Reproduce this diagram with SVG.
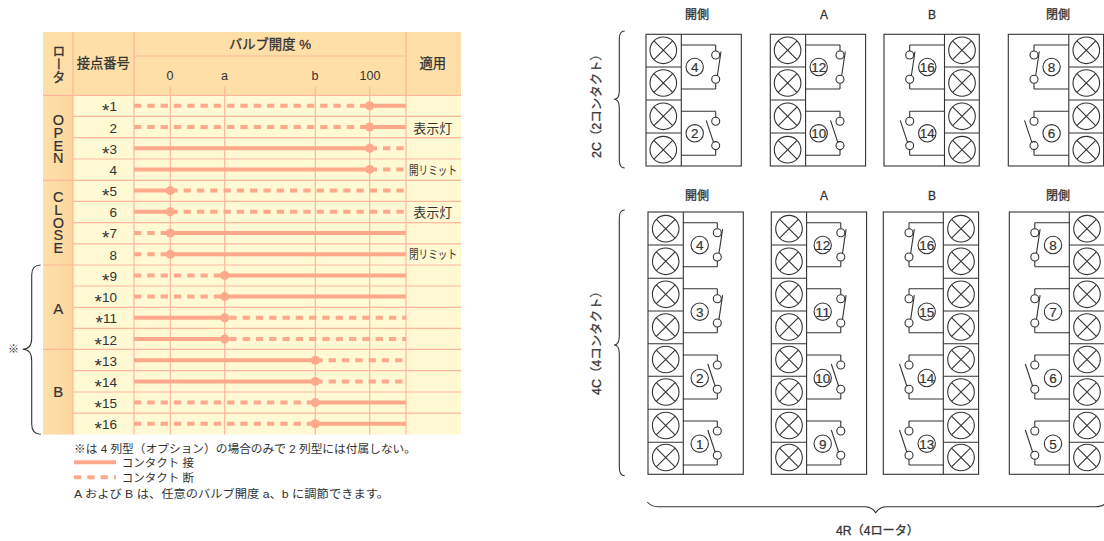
<svg xmlns="http://www.w3.org/2000/svg" width="1104" height="541" viewBox="0 0 1104 541">
<style>
text{font-family:"Liberation Sans","Noto Sans CJK JP",sans-serif;fill:#333;font-size:12px}
.m{text-anchor:middle}
.h{font-size:13.3px;stroke:#333;stroke-width:.3}
.tick{font-size:12.5px;text-anchor:middle}
.r{text-anchor:end;font-size:13.5px}
.st{font-size:19px;baseline-shift:-6px}
.rot{font-size:14.5px;writing-mode:vertical-rl;text-orientation:upright;letter-spacing:-3.2px;stroke:#333;stroke-width:.2}
.big{font-size:15px;text-anchor:middle;stroke:#333;stroke-width:.2}
.num{font-size:13.5px;text-anchor:middle;stroke:#333;stroke-width:.2}
.t{font-size:12px;text-anchor:middle;stroke:#333;stroke-width:.3}
.v{font-size:12px;stroke:#333;stroke-width:.3}
.leg{font-size:11.5px}
.g{stroke:#fdb79b;stroke-width:1.2;fill:none}
.s{stroke:#ffa98c;stroke-width:4;fill:none}
.d{stroke:#ffa98c;stroke-width:4;fill:none;stroke-dasharray:7.3 6}
.dot{fill:#ffa98c}
.k{stroke:#333;stroke-width:1.1;fill:none}
.f{stroke:#333;stroke-width:1.1;fill:#fff}
</style>
<defs>
<g id="tm"><circle class="f" r="13.3"/><path class="k" d="M-9.4-9.4L9.4 9.4M-9.4 9.4L9.4-9.4"/></g>
<g id="cts"><path class="k" d="M0 0V6M0 38.3V44"/><circle class="f" cy="10" r="4"/><circle class="f" cy="34.3" r="4"/></g>
<g id="swc"><use href="#cts"/><path class="k" d="M5.3 6.5L1.7 30.5"/></g>
<g id="swo"><use href="#cts"/><path class="k" d="M-9.5 9L-2 31.5"/></g>
<g id="cL"><use href="#swc"/><path class="k" d="M0 0H-34.5M0 44H-34.5"/></g>
<g id="oL"><use href="#swo"/><path class="k" d="M0 0H-34.5M0 44H-34.5"/></g>
<g id="cR"><use href="#swc"/><path class="k" d="M0 0H34.8M0 44H34.8"/></g>
<g id="oR"><use href="#swo"/><path class="k" d="M0 0H34.8M0 44H34.8"/></g>
<circle id="nc" class="f" r="8.7"/>
<g id="col2"><use href="#tm" y="16"/><use href="#tm" y="48.7"/><use href="#tm" y="82"/><use href="#tm" y="115.4"/></g>
<g id="col4"><use href="#tm" y="16.7"/><use href="#tm" y="49.3"/><use href="#tm" y="82.3"/><use href="#tm" y="115"/><use href="#tm" y="147.5"/><use href="#tm" y="180"/><use href="#tm" y="213.5"/><use href="#tm" y="245.5"/></g>
<g id="fL2"><rect class="f" width="95.3" height="131.7"/><path class="k" d="M35.3 0V131.7M0 32.7H35.3M0 65.7H35.3M0 98.7H35.3"/><use href="#col2" x="17.3"/></g>
<g id="fR2"><rect class="f" width="95.3" height="131.7"/><path class="k" d="M60.5 0V131.7M60.5 32.7H95.3M60.5 65.7H95.3M60.5 98.7H95.3"/><use href="#col2" x="78"/></g>
<g id="fL4"><rect class="f" width="95.3" height="262.3"/><path class="k" d="M35.3 0V262.3M0 33H35.3M0 66.3H35.3M0 99H35.3M0 131.7H35.3M0 164.3H35.3M0 197.3H35.3M0 230.3H35.3"/><use href="#col4" x="17.7"/></g>
<g id="fR4"><rect class="f" width="95.3" height="262.3"/><path class="k" d="M60 0V262.3M60 33H95.3M60 66.3H95.3M60 99H95.3M60 131.7H95.3M60 164.3H95.3M60 197.3H95.3M60 230.3H95.3"/><use href="#col4" x="77.7"/></g>
<linearGradient id="og" x1="0" x2="1" y1="0" y2="0"><stop offset="0" stop-color="#fee0ab"/><stop offset="1" stop-color="#fcd79e"/></linearGradient>
</defs>

<g id="table">
<rect x="43" y="32" width="418" height="402.5" fill="#fff9d4"/>
<rect x="43" y="32" width="418" height="63.3" fill="#fedfa8"/>
<rect x="43" y="95.3" width="30" height="339.2" fill="url(#og)"/>
<path class="g" d="M43 95.3H461M73 116.4H461M73 137.7H461M73 159H461M43 180.3H461M73 201.4H461M73 222.7H461M73 243.8H461M43 265H461M73 286H461M73 307.3H461M73 328.3H461M43 349.3H461M73 370.7H461M73 392H461M73 413.2H461"/>
<path class="g" d="M134 56H406M73 32V434.5M134 32V434.5M406 32V434.5M170.3 86.7V434.5M224.7 86.7V434.5M315.3 86.7V434.5M369.7 86.7V434.5"/>
<text class="h" writing-mode="vertical-rl" x="58" y="44">ロータ</text>
<text class="m h" x="103.3" y="67.5">接点番号</text>
<text class="m h" x="270" y="49">バルブ開度 %</text>
<text class="m h" x="432.7" y="67.5">適用</text>
<text class="tick" x="170" y="80">0</text><text class="tick" x="224.5" y="80">a</text><text class="tick" x="315" y="80">b</text><text class="tick" x="370" y="80">100</text>
<text class="rot" x="58.3" y="112">OPEN</text>
<text class="rot" x="58.3" y="189">CLOSE</text>
<text class="big" x="58.3" y="313.5">A</text><text class="big" x="58.3" y="397">B</text>
<g id="row-labels">
<text class="r" x="117" y="111"><tspan class="st">*</tspan>1</text>
<text class="r" x="117" y="132.5">2</text>
<text class="r" x="117" y="153.5"><tspan class="st">*</tspan>3</text>
<text class="r" x="117" y="175">4</text>
<text class="r" x="117" y="196"><tspan class="st">*</tspan>5</text>
<text class="r" x="117" y="217">6</text>
<text class="r" x="117" y="238"><tspan class="st">*</tspan>7</text>
<text class="r" x="117" y="260">8</text>
<text class="r" x="117" y="281"><tspan class="st">*</tspan>9</text>
<text class="r" x="117" y="302"><tspan class="st">*</tspan>10</text>
<text class="r" x="117" y="323"><tspan class="st">*</tspan>11</text>
<text class="r" x="117" y="344.5"><tspan class="st">*</tspan>12</text>
<text class="r" x="117" y="365.5"><tspan class="st">*</tspan>13</text>
<text class="r" x="117" y="387"><tspan class="st">*</tspan>14</text>
<text class="r" x="117" y="408"><tspan class="st">*</tspan>15</text>
<text class="r" x="117" y="429"><tspan class="st">*</tspan>16</text>
</g>
<text class="m" x="432.7" y="133" style="font-size:13px">表示灯</text>
<text x="409" y="175" style="font-size:12px" textLength="48" lengthAdjust="spacingAndGlyphs">開リミット</text>
<text class="m" x="432.7" y="217" style="font-size:13px">表示灯</text>
<text x="409" y="259" style="font-size:12px" textLength="48" lengthAdjust="spacingAndGlyphs">閉リミット</text>
</g>

<g id="connectors">
<path class="d" d="M134 105.8H366M134 127H366M369.7 148.2H406M369.7 169.4H406M170.3 190.6H406M170.3 211.8H406M134 233H170M134 254.2H170M134 275.4H224M134 296.6H224M229.3 317.8H406M229.3 339H406M315.3 360.2H406M315.3 381.4H406M134 402.6H315M134 423.8H315"/>
<path class="s" d="M369.7 105.8H406M369.7 127H406M134 148.2H369.7M134 169.4H369.7M134 190.6H170.3M134 211.8H170.3M170.3 233H406M170.3 254.2H406M224.7 275.4H406M224.7 296.6H406M134 317.8H224.7M134 339H224.7M134 360.2H315.3M134 381.4H315.3M315.3 402.6H406M315.3 423.8H406"/>
<g class="dot">
<circle cx="369.7" cy="105.8" r="4.5"/><circle cx="369.7" cy="127" r="4.5"/><circle cx="369.7" cy="148.2" r="4.5"/><circle cx="369.7" cy="169.4" r="4.5"/>
<circle cx="170.3" cy="190.6" r="4.5"/><circle cx="170.3" cy="211.8" r="4.5"/><circle cx="170.3" cy="233" r="4.5"/><circle cx="170.3" cy="254.2" r="4.5"/>
<circle cx="224.7" cy="275.4" r="4.5"/><circle cx="224.7" cy="296.6" r="4.5"/><circle cx="224.7" cy="317.8" r="4.5"/><circle cx="224.7" cy="339" r="4.5"/>
<circle cx="315.3" cy="360.2" r="4.5"/><circle cx="315.3" cy="381.4" r="4.5"/><circle cx="315.3" cy="402.6" r="4.5"/><circle cx="315.3" cy="423.8" r="4.5"/>
</g>
<path class="s" d="M74 462.3H116"/>
<path class="d" d="M74 477.3H116"/>
<path class="k" d="M40.7 265C35 265 31.7 268 31.7 275V338C31.7 345 29 349.3 22.7 349.3C29 349.3 31.7 354 31.7 361V424C31.7 431 35 434.3 40.7 434.3"/>
<path class="k" d="M624.7 31C621 31 619.3 34 619.3 39V91C619.3 96 617.5 99.3 614 99.3C617.5 99.3 619.3 103 619.3 108V160C619.3 165 621 168 624.7 168"/>
<path class="k" d="M624.7 210C621 210 619.3 213 619.3 218V336C619.3 341 617.5 345 614 345C617.5 345 619.3 349 619.3 354V467C619.3 472 621 475.7 624.7 475.7"/>
<path class="k" d="M647.3 502C650 505 653 506.7 658 506.7H865C870 506.7 873.5 509 875.7 512.7C878 509 881 506.7 886 506.7H1095C1099 506.7 1102 506 1104 504.5"/>
</g>

<g id="legend">
<text class="leg" x="74" y="453" textLength="342" lengthAdjust="spacingAndGlyphs">※は 4 列型（オプション）の場合のみで 2 列型には付属しない。</text>
<text class="leg" x="121.7" y="467">コンタクト 接</text>
<text class="leg" x="121.7" y="482">コンタクト 断</text>
<text class="leg" x="74" y="498" textLength="315" lengthAdjust="spacingAndGlyphs">A および B は、任意のバルブ開度 a、b に調節できます。</text>
<text x="8" y="353" style="font-size:11px">※</text>
</g>

<g id="titles">
<text class="t" x="697" y="19">開側</text><text class="t" x="824" y="19">A</text><text class="t" x="932" y="19">B</text><text class="t" x="1058" y="19">閉側</text>
<text class="t" x="697" y="200">開側</text><text class="t" x="824" y="200">A</text><text class="t" x="932" y="200">B</text><text class="t" x="1058" y="200">閉側</text>
<text class="v" transform="translate(601,158) rotate(-90)" textLength="110" lengthAdjust="spacingAndGlyphs">2C（2コンタクト）</text>
<text class="v" transform="translate(601,395) rotate(-90)" textLength="110" lengthAdjust="spacingAndGlyphs">4C（4コンタクト）</text>
<text class="v" x="836" y="535" textLength="83" lengthAdjust="spacingAndGlyphs">4R（4ロータ）</text>
</g>

<g id="box-2c-open" transform="translate(646,34.3)"><use href="#fL2"/><use href="#cL" x="69.7" y="10.7"/><use href="#oL" x="69.7" y="77"/>
<use href="#nc" x="48.7" y="32.7"/><text class="num" x="48.7" y="37.5">4</text><use href="#nc" x="48.7" y="99"/><text class="num" x="48.7" y="103.8">2</text></g>
<g id="box-2c-a" transform="translate(770.3,34.3)"><use href="#fL2"/><use href="#cL" x="69.7" y="10.7"/><use href="#oL" x="69.7" y="77"/>
<use href="#nc" x="48.4" y="32.7"/><text class="num" x="48.4" y="37.5" textLength="15" lengthAdjust="spacingAndGlyphs">12</text><use href="#nc" x="48.4" y="99"/><text class="num" x="48.4" y="103.8" textLength="15" lengthAdjust="spacingAndGlyphs">10</text></g>
<g id="box-2c-b" transform="translate(884,34.3)"><use href="#fR2"/><use href="#cR" x="25.7" y="10.7"/><use href="#oR" x="25.7" y="77"/>
<use href="#nc" x="43.3" y="32.7"/><text class="num" x="43.3" y="37.5" textLength="15" lengthAdjust="spacingAndGlyphs">16</text><use href="#nc" x="43.3" y="99"/><text class="num" x="43.3" y="103.8" textLength="15" lengthAdjust="spacingAndGlyphs">14</text></g>
<g id="box-2c-close" transform="translate(1008.3,34.3)"><use href="#fR2"/><use href="#cR" x="25.7" y="10.7"/><use href="#oR" x="25.7" y="77"/>
<use href="#nc" x="43.3" y="32.7"/><text class="num" x="43.3" y="37.5">8</text><use href="#nc" x="43.3" y="99"/><text class="num" x="43.3" y="103.8">6</text></g>

<g id="box-4c-open" transform="translate(648,212)"><use href="#fL4"/><use href="#cL" x="69.3" y="10.7"/><use href="#cL" x="69.3" y="76.7"/><use href="#oL" x="69.3" y="143"/><use href="#oL" x="69.3" y="209"/>
<use href="#nc" x="51.7" y="33"/><text class="num" x="51.7" y="37.8">4</text><use href="#nc" x="51.7" y="99.7"/><text class="num" x="51.7" y="104.5">3</text><use href="#nc" x="51.7" y="166"/><text class="num" x="51.7" y="170.8">2</text><use href="#nc" x="51.7" y="231.7"/><text class="num" x="51.7" y="236.5">1</text></g>
<g id="box-4c-a" transform="translate(771.3,212)"><use href="#fL4"/><use href="#cL" x="69.5" y="10.7"/><use href="#cL" x="69.5" y="76.7"/><use href="#oL" x="69.5" y="143"/><use href="#oL" x="69.5" y="209"/>
<use href="#nc" x="51.4" y="33"/><text class="num" x="51.4" y="37.8" textLength="15" lengthAdjust="spacingAndGlyphs">12</text><use href="#nc" x="51.4" y="99.7"/><text class="num" x="51.4" y="104.5" textLength="15" lengthAdjust="spacingAndGlyphs">11</text><use href="#nc" x="51.4" y="166"/><text class="num" x="51.4" y="170.8" textLength="15" lengthAdjust="spacingAndGlyphs">10</text><use href="#nc" x="51.4" y="231.7"/><text class="num" x="51.4" y="236.5">9</text></g>
<g id="box-4c-b" transform="translate(883.3,212)"><use href="#fR4"/><use href="#cR" x="25.7" y="10.7"/><use href="#cR" x="25.7" y="76.7"/><use href="#oR" x="25.7" y="143"/><use href="#oR" x="25.7" y="209"/>
<use href="#nc" x="43.4" y="33"/><text class="num" x="43.4" y="37.8" textLength="15" lengthAdjust="spacingAndGlyphs">16</text><use href="#nc" x="43.4" y="99.7"/><text class="num" x="43.4" y="104.5" textLength="15" lengthAdjust="spacingAndGlyphs">15</text><use href="#nc" x="43.4" y="166"/><text class="num" x="43.4" y="170.8" textLength="15" lengthAdjust="spacingAndGlyphs">14</text><use href="#nc" x="43.4" y="231.7"/><text class="num" x="43.4" y="236.5" textLength="15" lengthAdjust="spacingAndGlyphs">13</text></g>
<g id="box-4c-close" transform="translate(1009.3,212)"><use href="#fR4"/><use href="#cR" x="25.5" y="10.7"/><use href="#cR" x="25.5" y="76.7"/><use href="#oR" x="25.5" y="143"/><use href="#oR" x="25.5" y="209"/>
<use href="#nc" x="43.7" y="33"/><text class="num" x="43.7" y="37.8">8</text><use href="#nc" x="43.7" y="99.7"/><text class="num" x="43.7" y="104.5">7</text><use href="#nc" x="43.7" y="166"/><text class="num" x="43.7" y="170.8">6</text><use href="#nc" x="43.7" y="231.7"/><text class="num" x="43.7" y="236.5">5</text></g>
</svg>
